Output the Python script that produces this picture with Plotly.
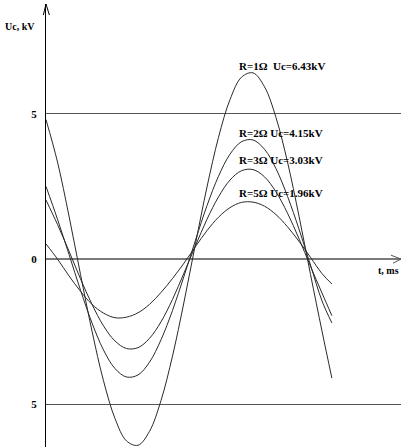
import plotly.graph_objects as go

# time axis, ms (curves stop at 12.43 ms)
t = [0, 0.5, 1, 1.5, 2, 2.5, 3, 3.5, 4, 4.5, 5, 5.5, 6, 6.5, 7, 7.5, 8, 8.5, 9, 9.5, 10, 10.5, 11, 11.5, 12, 12.43]

# capacitor voltage, kV
uc_r1 = [4.8, 3.34, 1.48, -0.53, -2.48, -4.19, -5.49, -6.26, -6.41, -5.93, -4.87, -3.34, -1.48,
         0.53, 2.48, 4.19, 5.49, 6.26, 6.41, 5.93, 4.87, 3.34, 1.48, -0.53, -2.48, -4.1]
uc_r2 = [2.5, 1.37, 0.16, -1.07, -2.2, -3.13, -3.77, -4.06, -3.99, -3.55, -2.78, -1.77, -0.59,
         0.65, 1.84, 2.85, 3.61, 4.04, 4.1, 3.78, 3.11, 2.16, 1.03, -0.21, -1.44, -2.2]
uc_r3 = [2.03, 1.19, 0.27, -0.68, -1.56, -2.3, -2.82, -3.08, -3.05, -2.73, -2.16, -1.39, -0.48,
         0.46, 1.37, 2.14, 2.72, 3.04, 3.08, 2.83, 2.31, 1.58, 0.7, -0.25, -1.17, -1.95]
uc_r5 = [0.52, 0.0, -0.58, -1.11, -1.56, -1.86, -2.02, -2.0, -1.85, -1.56, -1.15, -0.67, -0.14,
         0.43, 0.98, 1.44, 1.77, 1.95, 1.96, 1.82, 1.53, 1.11, 0.61, 0.06, -0.5, -0.86]

series = [uc_r1, uc_r2, uc_r3, uc_r5]
labels = ["R=1\u03a9  Uc=6.43kV", "R=2\u03a9 Uc=4.15kV", "R=3\u03a9 Uc=3.03kV", "R=5\u03a9 Uc=1.96kV"]
label_y = [6.64, 4.34, 3.41, 2.27]
label_t = 8.32

tick_vals = [-5, 0, 5]
tick_text = ["5", "0", "5"]

serif = "Liberation Serif"

fig = go.Figure()

for idx, values in enumerate(series):
    fig.add_trace(
        go.Scatter(
            x=t,
            y=values,
            mode="lines",
            line=dict(color="#2a2a2a", width=1, shape="spline", smoothing=1),
            showlegend=False,
            hoverinfo="skip",
        )
    )
    fig.add_annotation(
        x=label_t,
        y=label_y[idx],
        text=f"<b>{labels[idx]}</b>",
        showarrow=False,
        xanchor="left",
        yanchor="middle",
        font=dict(family=serif, size=11, color="black"),
    )

# axis titles
fig.add_annotation(
    x=0, y=1, xref="paper", yref="paper",
    xshift=-9, yshift=-22,
    text="<b>Uc, kV</b>", showarrow=False,
    xanchor="right", yanchor="middle",
    font=dict(family=serif, size=10, color="black"),
)
fig.add_annotation(
    x=1, y=0, xref="paper", yref="y",
    yshift=-11,
    text="<b>t, ms</b>", showarrow=False,
    xanchor="right", yanchor="middle",
    font=dict(family=serif, size=10, color="black"),
)

# arrow heads on both axes
fig.add_shape(
    type="path", xref="paper", yref="paper",
    path="M -0.0075 0.975 L 0 1 L 0.0095 0.975",
    line=dict(color="black", width=1),
)
fig.add_shape(
    type="path", xref="paper", yref="y",
    path="M 0.9715 0.135 L 0.9995 0 L 0.9775 -0.145",
    line=dict(color="#555555", width=1),
)

fig.update_xaxes(
    range=[0, 15.435],
    showgrid=False,
    zeroline=False,
    showline=False,
    showticklabels=False,
    ticks="",
    automargin=False,
)
fig.update_yaxes(
    range=[-6.47, 8.78],
    tickvals=tick_vals,
    ticktext=[f"<b>{s}</b>" for s in tick_text],
    tickfont=dict(family=serif, size=11, color="black"),
    ticks="",
    ticklabelstandoff=6,
    showgrid=True,
    gridcolor="#555555",
    gridwidth=1.3,
    zeroline=True,
    zerolinecolor="#7a7a7a",
    zerolinewidth=2,
    showline=True,
    linecolor="black",
    linewidth=1.3,
    automargin=False,
)

fig.update_layout(
    width=401,
    height=447,
    autosize=False,
    margin=dict(l=46, r=0, t=4, b=0, pad=0),
    plot_bgcolor="white",
    paper_bgcolor="white",
    font=dict(family=serif, color="black"),
)

# page body has an 8px default margin; drop it so the figure sits at the corner
fig.write_html(
    "out.html",
    config=dict(displayModeBar=False),
    post_script="document.body.style.margin = '0';",
)
